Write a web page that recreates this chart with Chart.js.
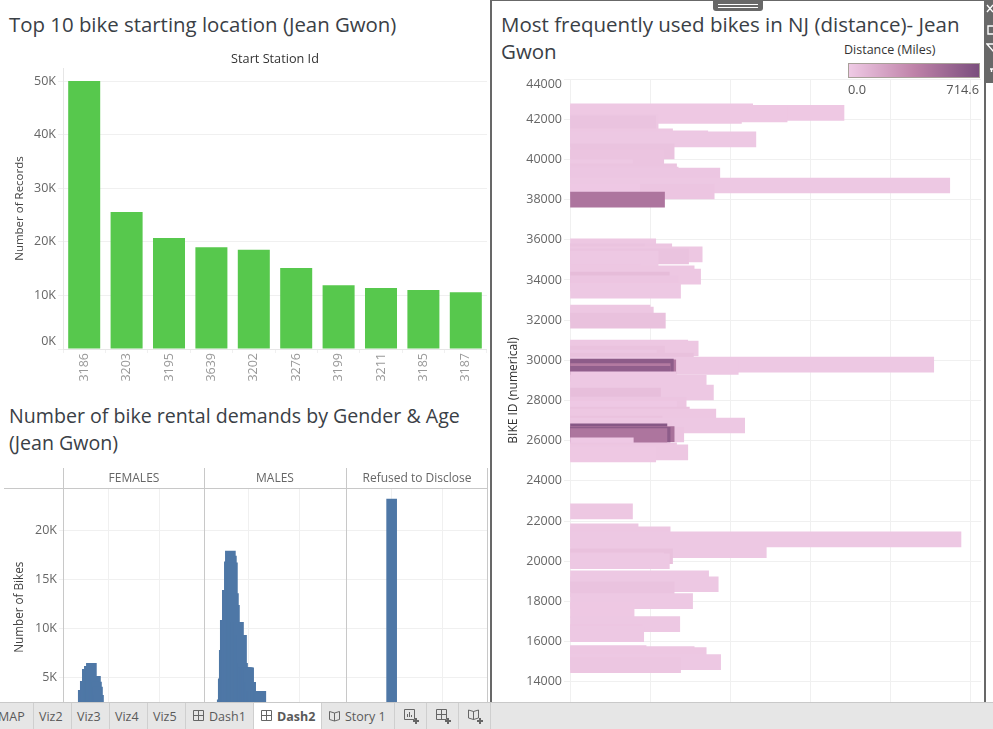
<!DOCTYPE html>
<html><head><meta charset="utf-8">
<script src="https://cdn.jsdelivr.net/npm/chart.js@4"></script>
<style>
html,body{margin:0;padding:0;background:#fff;width:993px;height:729px;overflow:hidden;font-family:"Open Sans",sans-serif}
canvas{position:absolute;display:block}
.t{position:absolute;color:#3a4046;line-height:27px;white-space:nowrap}
.ln{position:absolute;background:#c8c8c8}
.dk{position:absolute;background:#686868}
#tabs{position:absolute;left:0;top:702px;width:993px;height:27px;background:#e6e6e6;border-top:1px solid #c9c9c9;box-sizing:border-box;overflow:hidden;z-index:5}
.tab{position:absolute;top:0;height:26px;line-height:28px;font-size:12.5px;color:#5a5a5a;white-space:nowrap}
.sep{position:absolute;top:0;width:1px;height:26px;background:#cfcfcf}
#active{position:absolute;left:254px;top:0;width:67px;height:27px;background:#fff}
svg{position:absolute}
</style></head><body>
<div class="t" style="left:9px;top:11px;font-size:20.4px">Top 10 bike starting location (Jean Gwon)</div>
<div class="t" style="left:9px;top:402px;font-size:19.6px">Number of bike rental demands by Gender &amp; Age</div>
<div class="t" style="left:9px;top:429px;font-size:19.6px">(Jean Gwon)</div>
<div class="t" style="left:501px;top:11px;font-size:20.5px">Most frequently used bikes in NJ (distance)- Jean</div>
<div class="t" style="left:501px;top:38px;font-size:20.5px">Gwon</div>

<canvas id="c1" width="487" height="360" style="left:0;top:40px"></canvas>
<canvas id="f" width="204" height="258" style="left:0;top:468px"></canvas>
<canvas id="m" width="142" height="258" style="left:204px;top:468px"></canvas>
<canvas id="r" width="142" height="258" style="left:346px;top:468px"></canvas>
<canvas id="c2" width="489" height="632" style="left:492px;top:70px"></canvas>

<div class="ln" style="left:63px;top:468px;width:1px;height:234px"></div>
<div class="ln" style="left:204px;top:468px;width:1px;height:234px"></div>
<div class="ln" style="left:346px;top:468px;width:1px;height:234px"></div>
<div class="ln" style="left:487px;top:468px;width:1px;height:234px"></div>
<div class="ln" style="left:4px;top:488px;width:484px;height:1px"></div>

<div style="position:absolute;left:844px;top:42px;font-size:12.5px;line-height:15px;color:#333;white-space:nowrap">Distance (Miles)</div>
<div style="position:absolute;left:848px;top:63px;width:130px;height:13px;border:1px solid #a8a099;background:linear-gradient(to right,#efcae5,#bf83a9 50%,#7b4e7e)"></div>
<div style="position:absolute;left:848px;top:81px;font-size:12.800px;line-height:16px;color:#555">0.0</div>
<div style="position:absolute;right:14px;top:81px;font-size:12.800px;line-height:16px;color:#555">714.6</div>

<div class="dk" style="left:490px;top:0;width:2px;height:702px"></div>
<div class="dk" style="left:490px;top:0;width:495px;height:1px"></div>
<div class="dk" style="left:984px;top:0;width:2px;height:702px"></div>
<div class="dk" style="left:984px;top:0;width:9px;height:83px"></div>
<div class="dk" style="left:713px;top:0;width:50px;height:11px;border-radius:0 0 3px 3px"></div>
<div style="position:absolute;left:718px;top:4px;width:40px;height:1px;background:#fff"></div>
<div style="position:absolute;left:718px;top:7px;width:40px;height:1px;background:#fff"></div>
<svg style="left:986px;top:0" width="7" height="83" fill="none" stroke="#fff" stroke-width="1.4"><path d="M1 5l6 7M7 5l-6 7"/><path d="M2 26h6v8H2z"/><path d="M1 44l6 7l3-7z"/><path d="M4 69h4M5.500 69v3"/></svg>

<div id="tabs">
 <div id="active"></div>
 <div class="tab" style="left:-2px">MAP</div>
 <div class="tab" style="left:39px">Viz2</div>
 <div class="tab" style="left:77px">Viz3</div>
 <div class="tab" style="left:115px">Viz4</div>
 <div class="tab" style="left:153px">Viz5</div>
 <div class="tab" style="left:209px">Dash1</div>
 <div class="tab" style="left:277px;font-weight:700">Dash2</div>
 <div class="tab" style="left:345px">Story 1</div>
 <div class="sep" style="left:33px"></div><div class="sep" style="left:71px"></div><div class="sep" style="left:109px"></div>
 <div class="sep" style="left:147px"></div><div class="sep" style="left:185px"></div><div class="sep" style="left:253px"></div>
 <div class="sep" style="left:321px"></div><div class="sep" style="left:394px"></div><div class="sep" style="left:426px"></div>
 <div class="sep" style="left:458px"></div><div class="sep" style="left:490px"></div>
 <svg style="left:193px;top:7px" width="12" height="12" fill="none" stroke="#666"><path d="M.5.5h10v10H.5zM5.500.5v10M.5 5.500h10"/></svg>
 <svg style="left:261px;top:7px" width="12" height="12" fill="none" stroke="#666"><path d="M.5.5h10v10H.5zM5.500.5v10M.5 5.500h10"/></svg>
 <svg style="left:329px;top:7px" width="13" height="12" fill="none" stroke="#666"><path d="M.5 1.500l5 1.500v8l-5-1.500zM10.500 1.500l-5 1.500v8l5-1.500z"/></svg>
 <svg style="left:404px;top:6px" width="16" height="16" fill="none" stroke="#666"><path d="M.5.5h10v10H.5zM3.500 8V5M5.500 8V3M7.500 8V6"/><path d="M12 9v6M9 12h6" stroke-width="2"/></svg>
 <svg style="left:436px;top:6px" width="16" height="16" fill="none" stroke="#666"><path d="M.5.5h10v10H.5zM5.500.5v10M.5 5.500h10"/><path d="M12 9v6M9 12h6" stroke-width="2"/></svg>
 <svg style="left:468px;top:6px" width="16" height="16" fill="none" stroke="#666"><path d="M.5 1l5 1.500v8l-5-1.500zM10.500 1l-5 1.500v8l5-1.500z"/><path d="M12 9v6M9 12h6" stroke-width="2"/></svg>
</div>

<script>
// ---------- Top 10 start stations ----------
const stationIds = ['3186','3203','3195','3639','3202','3276','3199','3211','3185','3187'];
const stationRecords = [50000,25560,20700,19000,18500,15100,11900,11400,11000,10600];
const stationTicks = [0,10000,20000,30000,40000,50000];

// ---------- Bikes by age, one list per gender panel ----------
const femaleAges = [22,23,24,25,26,27,28,29,30,31,32,33,34,35,36,37,38,39,40,41,42,43];
const femaleBikes = [1000,1600,2300,3635,3635,4556,4556,5785,5785,6092,6092,6400,5068,5068,5068,5068,4488,3976,3123,2300,1900,1500];
const maleAges = [22,23,24,25,26,27,28,29,30,31,32,33,34,35,36,37,38,39,40,41,42,43,44,45,46,47,48,49,50,51,52,53,54,55,56,57,58,59,60,61,62,63];
const maleBikes = [1200,2000,2680,4830,7730,10800,10800,13870,13870,16775,17867,17355,16672,13530,12340,10600,10600,10600,10600,9266,9266,9266,6400,5956,5956,5956,5956,5956,5956,4454,4454,3533,3533,3533,3533,3533,3533,3533,3533,3533,3533,2200];
const refusedAges = [50];
const refusedBikes = [23190];
const ageGrid = [50,100];
const bikeCountTicks = [0,5000,10000,15000,20000];

// ---------- Bikes in NJ ----------
const bikeIds = [42390,42315,42232,42166,41884,41800,41145,41050,40996,40400,40100,39600,39400,39250,39200,38700,38400,38395,38000,
 35670,35420,35420,35270,35170,35070,34420,34330,34170,34020,33830,33470,32380,32280,31980,30640,30590,30340,30140,29990,29790,29670,
 29650,29696,29463,29330,29050,28890,28399,28250,27802,27603,27305,27206,26858,26759,26660,26312,26470,26330,26300,26230,25767,25520,25420,25320,
 22487,21492,21344,21096,20550,20251,20053,20003,19158,18860,18612,18016,17569,16873,16476,16376,15432,15382,15333,14985,14836];
const bikeLengths = [228,342,271,214,110,107,128,172,232,130,117,78,133,135,187,474,180,87,118,
 107,127,93,165,148,110,88,155,163,124,135,138,100,104,119,147,160,118,108,154,454,210,
 132,129,125,125,132,170,179,113,145,133,149,182,115,218,127,142,121,130,125,121,79,133,147,107,
 78,85,125,488,245,128,117,124,173,185,130,153,80,137,90,92,95,155,170,188,138];
const bikeMiles = [10,10,10,10,15,35,15,15,12,35,30,12,30,25,20,12,25,8,450,
 15,25,35,15,35,12,18,15,15,70,25,12,15,15,45,18,15,40,20,45,12,12,
 430,620,420,600,10,12,12,60,25,8,40,15,40,12,15,25,650,480,620,450,8,25,15,10,
 15,15,15,12,12,45,15,12,12,12,35,12,10,12,18,12,18,15,15,12,22];
const bikeIdTicks = [14000,16000,18000,20000,22000,24000,26000,28000,30000,32000,34000,36000,38000,40000,42000,44000];
const lengthGrid = [0,100,200,300,400,500];
const milesMax = 714.6;

const FONT = '"Open Sans", sans-serif';
const GRID = '#f0f0f0';
Chart.defaults.font.family = FONT;
Chart.defaults.animation = false;
Chart.defaults.responsive = false;
Chart.defaults.devicePixelRatio = 1;
Chart.defaults.plugins.legend.display = false;
Chart.defaults.plugins.tooltip.enabled = false;

// Tableau nudges the end labels of an axis inward.
const nudge = moves => ({
  id:'nudge',
  beforeDraw(chart){
    const items = chart.scales.y.getLabelItems();
    items.forEach(it=>{
      if(moves[it.label]!==undefined && !it._moved){ it.options.translation[1]+=moves[it.label]; it._moved=true; }
    });
  }
});
const setTicks = arr => s => { s.ticks = arr.map(v=>({value:v})); };
const fixY = w => s => { s.width=w; s.paddingTop=0; s.paddingBottom=0; };

new Chart(document.getElementById('c1'),{
  type:'bar',
  data:{labels:stationIds,datasets:[{data:stationRecords,backgroundColor:'#57c84d',barPercentage:0.755,categoryPercentage:1}]},
  options:{
    layout:{padding:0},
    plugins:{title:{display:true,text:'Start Station Id',fullSize:false,color:'#333',font:{size:12.7,weight:'500'},padding:{top:11.4,bottom:1.4}}},
    scales:{
      x:{afterFit:s=>{s.height=51},grid:{color:GRID,drawOnChartArea:false,tickLength:4},border:{color:'#e6e6e6'},
         ticks:{color:'#9a9a9a',font:{size:12.5},minRotation:90,maxRotation:90,padding:0,autoSkip:false}},
      y:{min:0,max:52425,afterFit:fixY(63),afterBuildTicks:setTicks(stationTicks),
         grid:{color:GRID,tickLength:5},border:{color:'#e6e6e6'},
         title:{display:true,text:'Number of Records',color:'#444',font:{size:11.5},padding:{top:13,bottom:0}},
         ticks:{color:'#666',font:{size:12.5},padding:2,callback:v=>(v/1000)+'K'}}
    }
  },
  plugins:[nudge({'0K':-8})]
});

function panel(id,title,ages,bikes,first,xMin,xMax){
  new Chart(document.getElementById(id),{
    type:'bar',
    data:{datasets:[{data:ages.map((a,i)=>({x:a,y:bikes[i]})),backgroundColor:'#4e77a6',barThickness:10,grouped:false}]},
    options:{
      plugins:{title:{display:true,text:title,fullSize:false,color:'#666',font:{size:12,weight:'normal'},padding:{top:3,bottom:3}}},
      scales:{
        x:{type:'linear',offset:false,min:xMin,max:xMax,afterBuildTicks:setTicks(ageGrid),grid:{offset:false,color:GRID,drawTicks:false},border:{display:false},ticks:{display:false}},
        y:{min:0,max:24283,afterBuildTicks:setTicks(bikeCountTicks),
           afterFit:fixY(first?64:0),
           grid:{color:GRID,drawTicks:first,tickLength:5},border:{display:false},
           title:{display:first,text:'Number of Bikes',color:'#444',font:{size:11.7},padding:{top:13,bottom:0}},
           ticks:{display:first,color:'#666',font:{size:12.5},padding:2,callback:v=>v===0?'':(v/1000)+'K'}}
      }
    }
  });
}
panel('f','FEMALES',femaleAges,femaleBikes,true,6,144);
panel('m','MALES',maleAges,maleBikes,false,6,146);
panel('r','Refused to Disclose',refusedAges,refusedBikes,false,5,145);

function hex(c){return [parseInt(c.slice(1,3),16),parseInt(c.slice(3,5),16),parseInt(c.slice(5,7),16)];}
const ramp=[hex('#efcae5'),hex('#bf83a9'),hex('#7b4e7e')];
function milesColor(m){
  const t=Math.min(1,m/milesMax)*2, i=t>=1?1:0, f=t-i;
  const c=ramp[i].map((v,k)=>Math.round(v+(ramp[i+1][k]-v)*f));
  return 'rgb('+c.join(',')+')';
}

new Chart(document.getElementById('c2'),{
  type:'bar',
  data:{datasets:[{data:bikeIds.map((b,i)=>({x:bikeLengths[i],y:b})),barThickness:15,grouped:false,
    backgroundColor:ctx=>milesColor(bikeMiles[ctx.dataIndex])}]},
  options:{
    indexAxis:'y',
    layout:{padding:{top:9}},
    scales:{
      x:{type:'linear',min:0,max:513,afterBuildTicks:setTicks(lengthGrid),grid:{color:GRID,drawTicks:false},border:{display:false},ticks:{display:false}},
      y:{type:'linear',offset:false,min:13000,max:44000,afterFit:fixY(78),afterBuildTicks:setTicks(bikeIdTicks),
         grid:{offset:false,color:GRID,tickLength:6},border:{color:GRID},
         title:{display:true,text:'BIKE ID (numerical)',color:'#333',font:{size:12},padding:{top:14,bottom:0}},
         ticks:{color:'#666',font:{size:12.5},padding:2,autoSkip:false,callback:v=>String(v)}}
    }
  },
  plugins:[nudge({'44000':5})]
});
</script>
</body></html>
